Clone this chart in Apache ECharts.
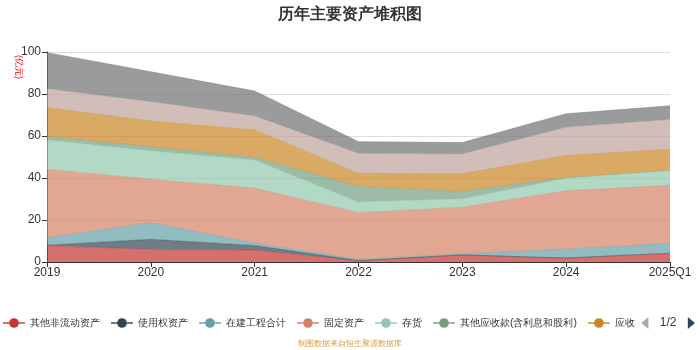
<!DOCTYPE html>
<html>
<head>
<meta charset="utf-8">
<script src="https://cdn.jsdelivr.net/npm/echarts@6/dist/echarts.min.js"></script>
<style>
    html, body { margin: 0; padding: 0; background: #fff; }
    #main { width: 700px; height: 350px; }
</style>
</head>
<body>
<div id="main"></div>
<script>
// 报告期
const periods = ['2019', '2020', '2021', '2022', '2023', '2024', '2025Q1'];

// 各项资产(亿元)
const otherNonCurrent = [7.8, 6.0, 5.7, 0.5, 3.3, 1.8, 4.1];
const rightOfUse = [0.2, 4.8, 2.1, 0.2, 0.1, 0.1, 0.1];
const construction = [3.6, 7.9, 1.1, 0.6, 0.5, 4.2, 4.7];
const fixedAssets = [32.5, 20.7, 26.2, 22.2, 22.2, 27.8, 27.6];
const inventory = [14.0, 13.5, 13.5, 5.1, 4.0, 6.0, 6.8];
const otherReceivable = [1.6, 2.0, 1.2, 7.3, 3.5, 0.3, 0.3];
const notesReceivable = [13.8, 12.2, 13.1, 6.3, 8.4, 10.5, 10.1];
const prepayments = [9.0, 9.2, 6.6, 9.5, 9.4, 13.5, 14.1];
const cash = [17.2, 14.3, 11.9, 5.6, 5.5, 6.4, 6.6];

const seriesNames = ['其他非流动资产', '使用权资产', '在建工程合计', '固定资产', '存货',
    '其他应收款(含利息和股利)', '应收票据及应收账款', '预付款项', '货币资金'];
const seriesData = [otherNonCurrent, rightOfUse, construction, fixedAssets, inventory,
    otherReceivable, notesReceivable, prepayments, cash];

const colorArr = ['#c23531', '#2f4554', '#61a0a8', '#d48265', '#91c7ae',
    '#749f83', '#ca8622', '#bda29a', '#6e7074'];

const myChart = echarts.init(document.getElementById('main'));

function getSeries() {
    let seriesArr = [];
    for (let i = 0; i < seriesNames.length; i++) {
        seriesArr.push({
            name: seriesNames[i],
            type: 'line',
            stack: 'total',
            symbol: 'circle',
            showSymbol: false,
            data: seriesData[i],
            lineStyle: { width: 0.6, opacity: 0.7 },
            areaStyle: { opacity: 0.7 }
        });
    }
    return seriesArr;
}

myChart.setOption({
    animation: false,
    color: colorArr,
    title: {
        text: '历年主要资产堆积图',
        left: 'center',
        top: 2,
        textStyle: { fontSize: 16, fontWeight: 'bold', color: '#333' }
    },
    legend: {
        type: 'scroll',
        left: -3,
        right: 0,
        top: 312,
        itemWidth: 22,
        itemHeight: 12,
        itemGap: 10,
        textStyle: { fontSize: 10.4, color: '#333' },
        pageIconColor: '#2f4554',
        pageIconInactiveColor: '#aaa',
        pageIconSize: 12,
        pageButtonItemGap: 6,
        pageButtonGap: 6,
        pageTextStyle: { fontSize: 12, color: '#333' },
        data: seriesNames
    },
    grid: { left: 47, right: 30, top: 52, bottom: 88 },
    xAxis: {
        type: 'category',
        boundaryGap: false,
        data: periods,
        axisLine: { lineStyle: { color: '#333' } },
        axisTick: { alignWithLabel: true },
        axisLabel: { fontSize: 12, color: '#333', margin: 5 }
    },
    yAxis: {
        type: 'value',
        min: 0,
        max: 100,
        interval: 20,
        axisLine: { show: true, lineStyle: { color: '#333' } },
        axisTick: { show: true },
        axisLabel: { fontSize: 12, color: '#333', margin: 6 },
        splitLine: { lineStyle: { color: '#ddd' } }
    },
    graphic: [
        {
            type: 'text',
            x: 23,
            y: 55,
            rotation: -Math.PI / 2,
            style: { text: '(亿元)', fill: '#f00', fontSize: 9 }
        },
        {
            type: 'text',
            left: 'center',
            top: 340,
            style: { text: '制图数据来自恒生聚源数据库', fill: '#d4a040', fontSize: 8 }
        }
    ],
    series: getSeries()
});
</script>
</body>
</html>
